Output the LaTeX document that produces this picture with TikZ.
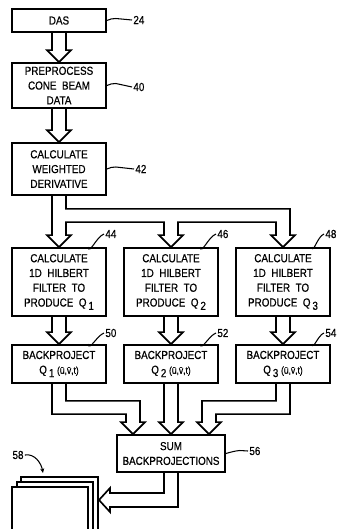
\documentclass[tikz,border=0pt]{standalone}
\usepackage{fontspec}
\setmainfont{Liberation Sans}[FakeStretch=0.85,FakeBold=0.6]
\usepackage{tikz}
\usetikzlibrary{calc,arrows.meta}

\newcommand{\qsub}[1]{Q\,\raisebox{-0.55ex}{#1}}
\newcommand{\uvt}{{\fontsize{8.5}{9}\selectfont(\=u,\=v,t)}}
% straight hollow arrow between two stacked boxes
\newcommand{\fatdown}[2]{%
  \draw[hollow] ($(#1.south)+(-7,0)$) -- ($(#2.north)+(-7,-12)$) -- ++(-5,0) -- (#2.north)
    -- ++(12,-12) -- ++(-5,0) -- ($(#1.south)+(7,0)$);}

\begin{document}
\begin{tikzpicture}[x=0.03cm, y=-0.03cm,
    box/.style={draw, line width=1.5pt, fill=white, align=center, inner sep=0pt,
        minimum width=2.82cm, font=\fontsize{9.9}{12.6}\selectfont},
    hollow/.style={line width=1.4pt, line join=miter},
    num/.style={inner sep=1pt, font=\fontsize{9.9}{12}\selectfont},
    lead/.style={line width=0.9pt},
    page/.style={line width=1.1pt, fill=white}]
    \useasboundingbox (0,0) rectangle (338,529);

    \node[box, minimum height=0.69cm] (das) at (59,20.5) {DAS};
    \node[box, minimum height=1.35cm] (pre) at (59,85.5) {PREPROCESS\\CONE\ \ BEAM\\DATA};
    \node[box, minimum height=1.56cm] (der) at (59,169) {CALCULATE\\WEIGHTED\\DERIVATIVE};
    \foreach \i/\x in {1/59,2/171,3/283} {
        \node[box, minimum height=2.04cm] (h\i) at (\x,282)
            {CALCULATE\\1D\ \ HILBERT\\FILTER\ \ TO\\PRODUCE\ \ \qsub{\i}};
        \node[box, minimum height=1.14cm] (b\i) at (\x,364) {BACKPROJECT\\\qsub{\i} \uvt};
    }
    \node[box, minimum width=3.24cm, minimum height=1.11cm] (sum) at (171,453.5) {SUM\\BACKPROJECTIONS};

    % reference numerals
    \node[num, anchor=west] (n24) at (132,20) {24};
    \node[num, anchor=west] (n40) at (132,87) {40};
    \node[num, anchor=west] (n42) at (134,169) {42};
    \node[num, anchor=west] (n44) at (104,234) {44};
    \node[num, anchor=west] (n46) at (216,234) {46};
    \node[num, anchor=west] (n48) at (324,234) {48};
    \node[num, anchor=west] (n50) at (104,333) {50};
    \node[num, anchor=west] (n52) at (216,333) {52};
    \node[num, anchor=west] (n54) at (324,333) {54};
    \node[num, anchor=west] (n56) at (248,451) {56};
    \node[num] (n58) at (18,455) {58};

    \draw[lead] (das.east) to[out=25,in=180] ($(das.east)+(9,-2)$) -- (n24.west);
    \draw[lead] (pre.east) to[out=25,in=180] ($(pre.east)+(9,-2)$) -- (n40.west);
    \draw[lead] (der.east) to[out=25,in=180] ($(der.east)+(9,-2)$) -- (n42.west);
    \foreach \i/\n in {1/44,2/46,3/48} {
        \draw[lead] ($(h\i.north)+(29,0)$) to[out=-80,in=200] (n\n.west);
    }
    \foreach \i/\n in {1/50,2/52,3/54} {
        \draw[lead] ($(b\i.north)+(29,0)$) to[out=-80,in=200] (n\n.west);
    }
    \draw[lead] (sum.east) to[out=15,in=185] ($(sum.east)+(14,-3)$) -- (n56.west);

    % straight hollow arrows
    \fatdown{das}{pre}
    \fatdown{pre}{der}
    \foreach \i in {1,2,3} {\fatdown{h\i}{b\i}}
    \fatdown{b2}{sum}

    % split from derivative into the three filters
    \draw[hollow] ($(der.south)+(-7,0)$) -- ($(h1.north)+(-7,-12)$) -- ++(-5,0) -- (h1.north)
        -- ++(12,-12) -- ++(-5,0) |- ($(h2.north)+(-7,-25)$) -- ($(h2.north)+(-7,-12)$)
        -- ++(-5,0) -- (h2.north) -- ++(12,-12) -- ++(-5,0) |- ($(h3.north)+(-7,-25)$)
        -- ($(h3.north)+(-7,-12)$) -- ++(-5,0) -- (h3.north) -- ++(12,-12) -- ++(-5,0)
        |- ($(der.south)+(7,13)$) -- ($(der.south)+(7,0)$);

    % merge into sum
    \draw[hollow] ($(b1.south)+(-7,0)$) |- ($(sum.north)+(-45,-20)$) -- ($(sum.north)+(-45,-12)$)
        -- ++(-5,0) -- ($(sum.north)+(-38,0)$) -- ++(12,-12) -- ++(-5,0)
        |- ($(b1.south)+(7,17)$) -- ($(b1.south)+(7,0)$);
    \draw[hollow] ($(b3.south)+(7,0)$) |- ($(sum.north)+(45,-20)$) -- ($(sum.north)+(45,-12)$)
        -- ++(5,0) -- ($(sum.north)+(38,0)$) -- ++(-12,-12) -- ++(5,0)
        |- ($(b3.south)+(-7,17)$) -- ($(b3.south)+(-7,0)$);

    % image stack
    \filldraw[page] (21,535) |- (98,477) -- (98,535);
    \filldraw[page] (17,535) |- (93,482) -- (93,535);
    \filldraw[page] (12,535) |- (88,487) -- (88,535);
    \coordinate (img) at (99,500);
    \coordinate (imgtop) at (43,473);

    \draw[hollow] ($(sum.south)+(-7,0)$) |- ($(img)+(11,-7)$) -- ++(0,-5) -- (img)
        -- ++(11,12) -- ++(0,-5) -| ($(sum.south)+(7,0)$);
    \draw[lead, -{Stealth[length=4pt,width=3.5pt]}] (n58.east) to[out=10,in=100] (imgtop);
\end{tikzpicture}
\end{document}
